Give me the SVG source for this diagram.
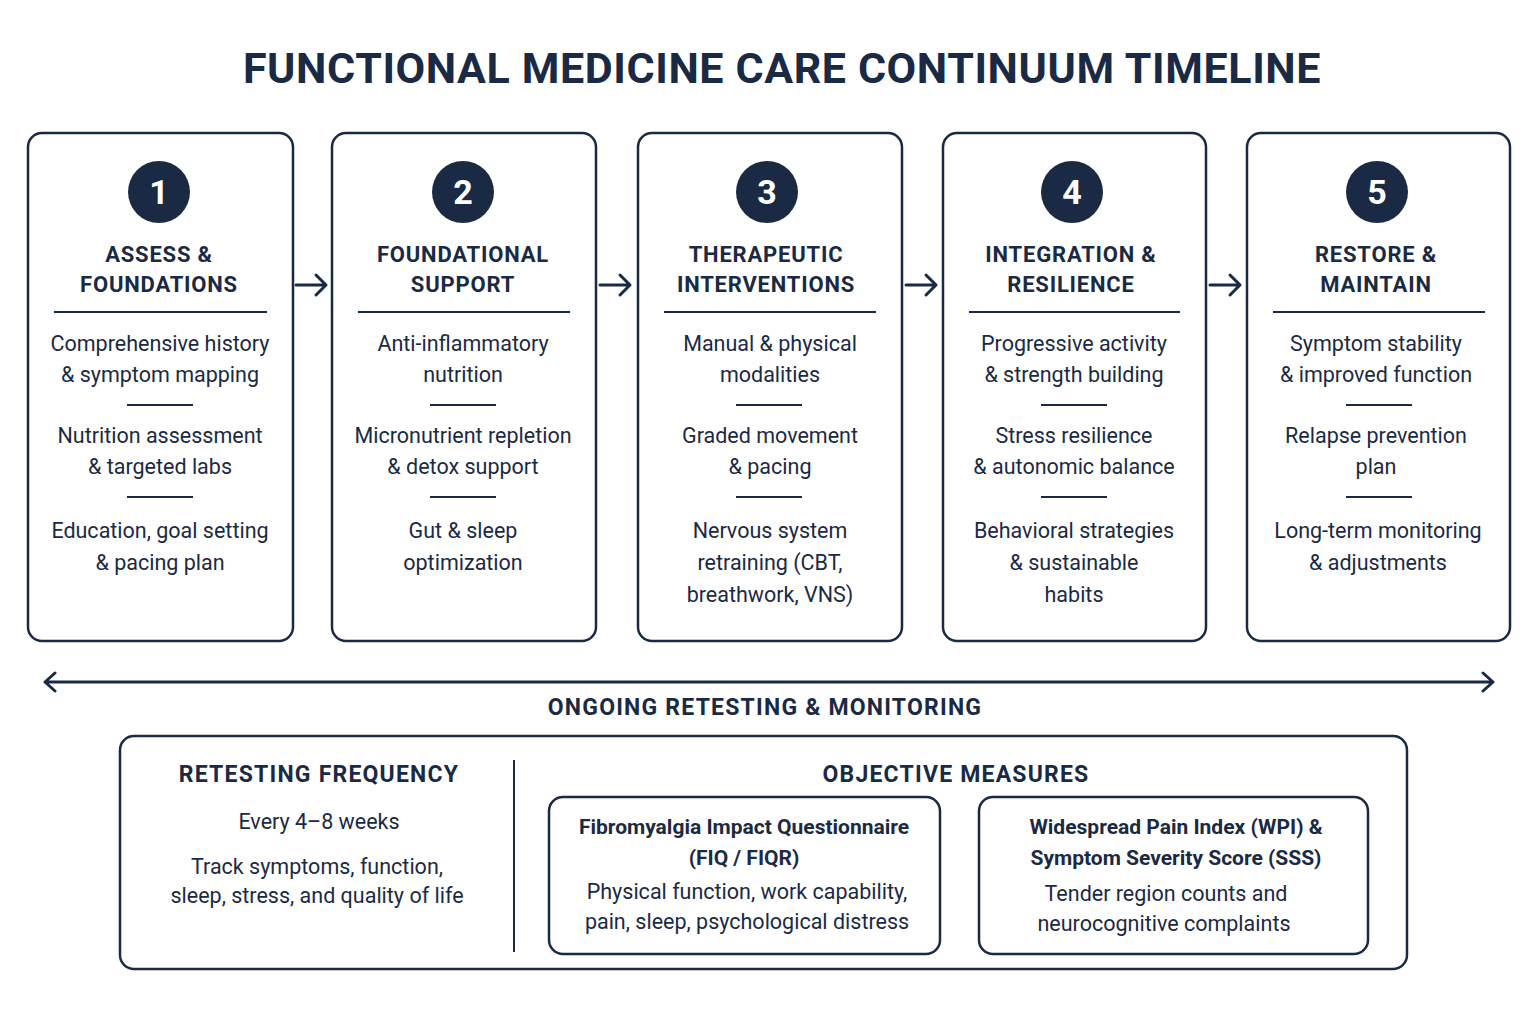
<svg xmlns="http://www.w3.org/2000/svg" width="1536" height="1020" viewBox="0 0 1536 1020">
<style>
.bx{fill:#fff;stroke:#1b2a44;stroke-width:2.5}
.c{fill:#1b2a44}
.n{fill:#fff;font:700 34px Roboto,"Liberation Sans",sans-serif;text-anchor:middle}
.h{fill:#1b2a44;font:700 22px Roboto,"Liberation Sans",sans-serif;text-anchor:middle;letter-spacing:0.8px}
.h2{fill:#1b2a44;font:700 23px Roboto,"Liberation Sans",sans-serif;text-anchor:middle;letter-spacing:1.2px}
.t{fill:#1b2a44;font:400 21.5px Roboto,"Liberation Sans",sans-serif;text-anchor:middle}
.tb{fill:#1b2a44;font:700 21px Roboto,"Liberation Sans",sans-serif;text-anchor:middle}
.ln{stroke:#1b2a44;stroke-width:2;fill:none}
.ar{stroke:#1b2a44;stroke-width:3;fill:none;stroke-linecap:round;stroke-linejoin:round}
</style>
<rect width="1536" height="1020" fill="#fff"/>
<text x="782" y="83" style="fill:#1b2a44;font:700 43px Roboto,'Liberation Sans',sans-serif;text-anchor:middle;letter-spacing:0.6px">FUNCTIONAL MEDICINE CARE CONTINUUM TIMELINE</text>

<g id="stage1">
<rect class="bx" x="28" y="133" width="265" height="508" rx="14"/>
<circle class="c" cx="159" cy="192" r="31"/><text class="n" x="159" y="204">1</text>
<text class="h" x="159" y="262">ASSESS &amp;</text><text class="h" x="159" y="292">FOUNDATIONS</text>
<line class="ln" x1="54" y1="312" x2="267" y2="312"/>
<text class="t" x="160" y="351">Comprehensive history</text><text class="t" x="160" y="382">&amp; symptom mapping</text>
<line class="ln" x1="127" y1="405" x2="193" y2="405"/>
<text class="t" x="160" y="443">Nutrition assessment</text><text class="t" x="160" y="474">&amp; targeted labs</text>
<line class="ln" x1="127" y1="497" x2="193" y2="497"/>
<text class="t" x="160" y="538">Education, goal setting</text><text class="t" x="160" y="570">&amp; pacing plan</text>
</g>
<g id="stage2">
<rect class="bx" x="332" y="133" width="264" height="508" rx="14"/>
<circle class="c" cx="463" cy="192" r="31"/><text class="n" x="463" y="204">2</text>
<text class="h" x="463" y="262">FOUNDATIONAL</text><text class="h" x="463" y="292">SUPPORT</text>
<line class="ln" x1="358" y1="312" x2="570" y2="312"/>
<text class="t" x="463" y="351">Anti-inflammatory</text><text class="t" x="463" y="382">nutrition</text>
<line class="ln" x1="430" y1="405" x2="496" y2="405"/>
<text class="t" x="463" y="443">Micronutrient repletion</text><text class="t" x="463" y="474">&amp; detox support</text>
<line class="ln" x1="430" y1="497" x2="496" y2="497"/>
<text class="t" x="463" y="538">Gut &amp; sleep</text><text class="t" x="463" y="570">optimization</text>
</g>
<g id="stage3">
<rect class="bx" x="638" y="133" width="264" height="508" rx="14"/>
<circle class="c" cx="767" cy="192" r="31"/><text class="n" x="767" y="204">3</text>
<text class="h" x="766" y="262">THERAPEUTIC</text><text class="h" x="766" y="292">INTERVENTIONS</text>
<line class="ln" x1="664" y1="312" x2="876" y2="312"/>
<text class="t" x="770" y="351">Manual &amp; physical</text><text class="t" x="770" y="382">modalities</text>
<line class="ln" x1="736" y1="405" x2="802" y2="405"/>
<text class="t" x="770" y="443">Graded movement</text><text class="t" x="770" y="474">&amp; pacing</text>
<line class="ln" x1="736" y1="497" x2="802" y2="497"/>
<text class="t" x="770" y="538">Nervous system</text><text class="t" x="770" y="570">retraining (CBT,</text><text class="t" x="770" y="602">breathwork, VNS)</text>
</g>
<g id="stage4">
<rect class="bx" x="943" y="133" width="263" height="508" rx="14"/>
<circle class="c" cx="1072" cy="192" r="31"/><text class="n" x="1072" y="204">4</text>
<text class="h" x="1071" y="262">INTEGRATION &amp;</text><text class="h" x="1071" y="292">RESILIENCE</text>
<line class="ln" x1="969" y1="312" x2="1180" y2="312"/>
<text class="t" x="1074" y="351">Progressive activity</text><text class="t" x="1074" y="382">&amp; strength building</text>
<line class="ln" x1="1041" y1="405" x2="1107" y2="405"/>
<text class="t" x="1074" y="443">Stress resilience</text><text class="t" x="1074" y="474">&amp; autonomic balance</text>
<line class="ln" x1="1041" y1="497" x2="1107" y2="497"/>
<text class="t" x="1074" y="538">Behavioral strategies</text><text class="t" x="1074" y="570">&amp; sustainable</text><text class="t" x="1074" y="602">habits</text>
</g>
<g id="stage5">
<rect class="bx" x="1247" y="133" width="263" height="508" rx="14"/>
<circle class="c" cx="1377" cy="192" r="31"/><text class="n" x="1377" y="204">5</text>
<text class="h" x="1376" y="262">RESTORE &amp;</text><text class="h" x="1376" y="292">MAINTAIN</text>
<line class="ln" x1="1273" y1="312" x2="1485" y2="312"/>
<text class="t" x="1376" y="351">Symptom stability</text><text class="t" x="1376" y="382">&amp; improved function</text>
<line class="ln" x1="1346" y1="405" x2="1412" y2="405"/>
<text class="t" x="1376" y="443">Relapse prevention</text><text class="t" x="1376" y="474">plan</text>
<line class="ln" x1="1346" y1="497" x2="1412" y2="497"/>
<text class="t" x="1378" y="538">Long-term monitoring</text><text class="t" x="1378" y="570">&amp; adjustments</text>
</g>

<g id="connectors">
<path class="ar" d="M296 285H326M316 275L326 285L316 295"/>
<path class="ar" d="M600 285H630M620 275L630 285L620 295"/>
<path class="ar" d="M906 285H936M926 275L936 285L926 295"/>
<path class="ar" d="M1210 285H1240M1230 275L1240 285L1230 295"/>
<path class="ar" d="M45 682H1493M55 673L45 682L55 691M1483 673L1493 682L1483 691"/>
</g>
<text class="h2" x="765" y="715">ONGOING RETESTING &amp; MONITORING</text>

<g id="monitoring">
<rect class="bx" x="120" y="736" width="1287" height="233" rx="14"/>
<line class="ln" x1="514" y1="760" x2="514" y2="952"/>
<text class="h2" x="319" y="782">RETESTING FREQUENCY</text>
<text class="t" x="319" y="829">Every 4–8 weeks</text>
<text class="t" x="317" y="874">Track symptoms, function,</text>
<text class="t" x="317" y="903">sleep, stress, and quality of life</text>
<text class="h2" x="956" y="782">OBJECTIVE MEASURES</text>
</g>
<g id="fiq">
<rect class="bx" x="549" y="797" width="391" height="157" rx="14"/>
<text class="tb" x="744" y="834">Fibromyalgia Impact Questionnaire</text>
<text class="tb" x="744" y="865">(FIQ / FIQR)</text>
<text class="t" x="747" y="899">Physical function, work capability,</text>
<text class="t" x="747" y="929">pain, sleep, psychological distress</text>
</g>
<g id="wpi">
<rect class="bx" x="979" y="797" width="389" height="157" rx="14"/>
<text class="tb" x="1176" y="834">Widespread Pain Index (WPI) &amp;</text>
<text class="tb" x="1176" y="865">Symptom Severity Score (SSS)</text>
<text class="t" x="1166" y="901">Tender region counts and</text>
<text class="t" x="1164" y="931">neurocognitive complaints</text>
</g>
</svg>
